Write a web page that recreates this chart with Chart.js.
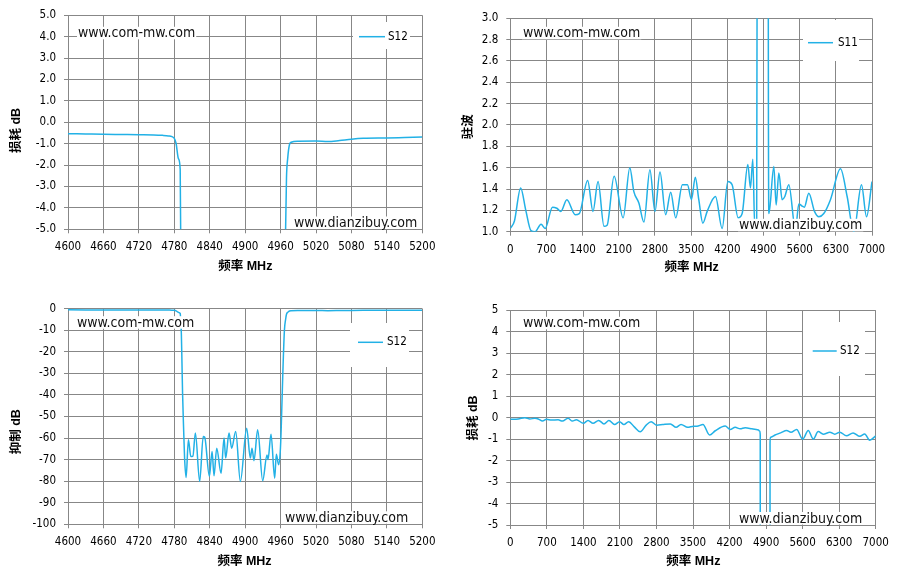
<!DOCTYPE html>
<html>
<head>
<meta charset="utf-8">
<script src="https://cdn.jsdelivr.net/npm/chart.js@4.4.1/dist/chart.umd.min.js"></script>
<style>
  html, body { margin: 0; padding: 0; background: #fff; }
  #grid { display: grid; grid-template-columns: 449px 449px; grid-template-rows: 289px 289px; width: 898px; height: 578px; }
  .cell { position: relative; width: 449px; height: 289px; }
</style>
</head>
<body>
<div id="grid">
  <div class="cell"><canvas id="lossNarrow"></canvas></div>
  <div class="cell"><canvas id="vswrWide"></canvas></div>
  <div class="cell"><canvas id="rejectNarrow"></canvas></div>
  <div class="cell"><canvas id="lossWide"></canvas></div>
</div>
<script>
// 4600-5200 MHz sweep, S12 (dB) - used by the loss and rejection panels
const narrowFreq = [
  4600, 4630, 4660, 4690, 4720, 4745, 4760, 4770, 4776, 4780, 4783, 4787, 4790, 4791,
  4792, 4793, 4794, 4795.7, 4797.4, 4800, 4803.9, 4808, 4811.5, 4815.7, 4823, 4829,
  4831.5, 4839.4, 4844, 4847.3, 4851.8, 4859.2, 4864.3, 4867, 4872.7, 4877.2, 4884,
  4891.9, 4902.6, 4908.8, 4911.6, 4915, 4921.2, 4929.7, 4937, 4938.7, 4943.8, 4950,
  4952.8, 4956.7, 4959.5, 4961, 4963.8, 4966.5, 4968.5, 4970, 4972, 4975, 4978, 4990,
  5020, 5040, 5060, 5080, 5100, 5140, 5170, 5200,
];
const narrowS12 = [
  -0.53, -0.545, -0.56, -0.57, -0.58, -0.59, -0.61, -0.635, -0.67, -0.75, -0.98, -1.7, -2.2, -6,
  -12, -25, -39, -55, -69, -78.3, -60.8, -68.6, -68.4, -57.7, -80.1, -59.3,
  -59.6, -77.8, -66.2, -77.5, -64.7, -76.3, -60, -69.3, -57.7, -64.7, -57,
  -80.1, -55.4, -69.3, -64.7, -70.5, -56.2, -79.8, -67.8, -70, -58.2, -78.6,
  -67.5, -72.4, -66, -56, -30, -10, -5, -2.6, -1.7, -1.05, -0.93, -0.88,
  -0.87, -0.9, -0.85, -0.79, -0.75, -0.73, -0.71, -0.69,
];

// 0-7000 MHz sweep, S11 (VSWR)
const wideFreqS11 = [
  0, 80, 200, 300, 400, 480, 596, 674, 816, 900, 978, 1095, 1257, 1335, 1497, 1600,
  1698, 1814, 1873, 2009, 2184, 2313, 2391, 2488, 2586, 2702, 2800, 2897, 3007, 3104,
  3201, 3331, 3428, 3506, 3580, 3648, 3726, 3810, 3971, 4100, 4210, 4293, 4410, 4487,
  4597, 4648, 4693, 4732, 4750, 4768, 4776, 4780, 4990, 4993, 5005, 5100, 5145, 5197,
  5261, 5313, 5390, 5519, 5584, 5648, 5690, 5777, 5887, 5970, 6067, 6196, 6390, 6519,
  6648, 6796, 6894, 7000,
];
const wideS11 = [
  1.03, 1.10, 1.41, 1.2, 1.01, 1.0, 1.07, 1.03, 1.23, 1.22, 1.19, 1.30, 1.16, 1.17, 1.48, 1.19,
  1.47, 1.05, 1.06, 1.52, 1.13, 1.60, 1.375, 1.27, 1.09, 1.58, 1.19, 1.56, 1.16, 1.37,
  1.13, 1.44, 1.44, 1.30, 1.51, 1.30, 1.08, 1.19, 1.33, 1.03, 1.47, 1.44, 1.13, 1.17,
  1.63, 1.41, 1.68, 1.03, 1.05, 1.1, 3.2, 20, 20, 3.2, 1.17, 1.61, 1.25, 1.55,
  1.30, 1.33, 1.44, 1.02, 1.26, 1.24, 1.23, 1.36, 1.19, 1.14, 1.17, 1.30, 1.59, 1.33,
  1.0, 1.44, 1.14, 1.47,
];

// 0-7000 MHz sweep, S12 (dB)
const wideFreqS12 = [
  0, 153, 280, 375, 471, 535, 617, 694, 789, 916, 999, 1107, 1190, 1266, 1400, 1489,
  1585, 1693, 1795, 1890, 1998, 2094, 2176, 2266, 2380, 2488, 2603, 2698, 2807, 2921,
  3067, 3176, 3271, 3398, 3513, 3576, 3691, 3818, 3926, 4117, 4213, 4308, 4404, 4499,
  4626, 4754, 4780, 4788, 4791, 4890, 4972, 4976, 4982, 5072, 5180, 5295, 5377, 5486,
  5600, 5708, 5804, 5899, 5995, 6122, 6217, 6313, 6440, 6567, 6695, 6790, 6886, 7000,
];
const wideS12 = [
  -0.08, -0.06, 0.0, -0.06, -0.03, -0.06, -0.16, -0.08, -0.11, -0.10, -0.16, -0.03, -0.16, -0.10, -0.26, -0.13,
  -0.26, -0.13, -0.29, -0.13, -0.32, -0.19, -0.32, -0.19, -0.44, -0.66, -0.35, -0.19, -0.35, -0.32,
  -0.29, -0.45, -0.32, -0.45, -0.40, -0.40, -0.32, -0.81, -0.61, -0.39, -0.55, -0.45, -0.52, -0.47,
  -0.52, -0.58, -0.63, -0.8, -40, -60, -40, -1.2, -0.92, -0.81, -0.71, -0.60, -0.68, -0.55,
  -1.0, -0.60, -1.0, -0.65, -0.77, -0.68, -0.77, -0.68, -0.84, -0.71, -0.87, -0.76, -1.05, -0.85,
];

// axis ranges: [min, max, step]
const narrowFreqAxis = [4600, 5200, 60];
const wideFreqAxis = [0, 7000, 700];
const lossNarrowAxis = [-5, 5, 1];
const vswrAxis = [1, 3, 0.2];
const rejectAxis = [-100, 0, 10];
const lossWideAxis = [-5, 5, 1];

const LINE_COLOR = '#22b1e6';
const GRID_COLOR = '#878787';
const SANS_NARROW = "'DejaVu Sans Condensed', 'DejaVu Sans', sans-serif";
const TICK_FONT = { family: SANS_NARROW, size: 11.5 };
const MARK_FONT = `14px ${SANS_NARROW}`;
const LEGEND_FONT = `11.5px ${SANS_NARROW}`;
const TITLE_FONT = "bold 12.5px 'Liberation Sans', 'Noto Sans CJK SC', sans-serif";
const W = 449;
const H = 289;

const toPoints = (xs, ys) => xs.map((x, i) => ({ x, y: ys[i] }));

// legend box, site marks and axis titles, drawn on top like the original
const overlayPlugin = {
  id: 'overlay',
  afterDraw(chart, args, opts) {
    const { ctx } = chart;
    ctx.save();

    const lg = opts.legend;
    ctx.fillStyle = '#fff';
    ctx.fillRect(lg.box[0], lg.box[1], lg.box[2] - lg.box[0], lg.box[3] - lg.box[1]);
    ctx.strokeStyle = LINE_COLOR;
    ctx.lineWidth = 1.5;
    ctx.beginPath();
    ctx.moveTo(lg.line[0], lg.y);
    ctx.lineTo(lg.line[1], lg.y);
    ctx.stroke();
    ctx.fillStyle = '#000';
    ctx.font = LEGEND_FONT;
    ctx.textAlign = 'left';
    ctx.textBaseline = 'middle';
    ctx.fillText(lg.text, lg.textX, lg.y);

    ctx.font = MARK_FONT;
    ctx.textBaseline = 'alphabetic';
    opts.marks.forEach(([text, x, y]) => {
      const w = ctx.measureText(text).width;
      ctx.fillStyle = '#fff';
      ctx.fillRect(x - 1, y - 10.5, w + 2, 12.5);
      ctx.fillStyle = '#111';
      ctx.fillText(text, x, y);
    });

    ctx.font = TITLE_FONT;
    ctx.fillStyle = '#000';
    ctx.textAlign = 'center';
    ctx.textBaseline = 'middle';
    const [xt, xx, xy] = opts.xTitle;
    ctx.fillText(xt, xx, xy);
    const [yt, yx, yy] = opts.yTitle;
    ctx.translate(yx, yy);
    ctx.rotate(-Math.PI / 2);
    ctx.fillText(yt, 0, 0);

    ctx.restore();
  },
};

const makePanel = (elementId, { points, area, xAxis, yAxis, yFormat, overlay }) => {
  const [L, T, R, B] = area;

  const SCALES = {
    x: {
      type: 'linear',
      min: xAxis[0],
      max: xAxis[1],
      grid: { color: GRID_COLOR, tickLength: 4 },
      border: { color: GRID_COLOR },
      ticks: {
        stepSize: xAxis[2],
        autoSkip: false,
        maxRotation: 0,
        padding: 7,
        color: '#000',
        font: TICK_FONT,
        callback: (v) => String(v),
      },
      afterFit: (scale) => { scale.height = H - B; },
    },
    y: {
      min: yAxis[0],
      max: yAxis[1],
      grid: { color: GRID_COLOR, tickLength: 4 },
      border: { color: GRID_COLOR },
      ticks: {
        stepSize: yAxis[2],
        padding: 8,
        color: '#000',
        font: TICK_FONT,
        callback: yFormat,
      },
      afterFit: (scale) => { scale.width = L; },
    },
  };

  return new Chart(document.getElementById(elementId), {
    type: 'line',
    data: {
      datasets: [{
        data: points,
        borderColor: LINE_COLOR,
        borderWidth: 1.5,
        pointRadius: 0,
        cubicInterpolationMode: 'monotone',
        fill: false,
      }],
    },
    options: {
      responsive: true,
      maintainAspectRatio: false,
      animation: false,
      layout: { padding: { left: 0, top: T, right: W - R, bottom: 0 } },
      plugins: {
        legend: { display: false },
        tooltip: { enabled: false },
        overlay,
      },
      scales: SCALES,
    },
    plugins: [overlayPlugin],
  });
};

const oneDecimal = (v) => v.toFixed(1);
const whole = (v) => String(Math.round(v));

makePanel('lossNarrow', {
  points: toPoints(narrowFreq, narrowS12),
  area: [68, 15.3, 422.3, 229.3],
  xAxis: narrowFreqAxis,
  yAxis: lossNarrowAxis,
  yFormat: oneDecimal,
  overlay: {
    legend: { box: [353, 22, 410, 49], line: [359, 385], y: 36.7, text: 'S12', textX: 388 },
    marks: [['www.com-mw.com', 78, 37.3], ['www.dianzibuy.com', 294, 227]],
    xTitle: ['频率 MHz', 245.3, 266.7],
    yTitle: ['损耗 dB', 16.3, 130.5],
  },
});

makePanel('vswrWide', {
  points: toPoints(wideFreqS11, wideS11),
  area: [61.3, 18.3, 423, 231.7],
  xAxis: wideFreqAxis,
  yAxis: vswrAxis,
  yFormat: oneDecimal,
  overlay: {
    legend: { box: [354, 20, 410, 61], line: [359, 384], y: 42.7, text: 'S11', textX: 389 },
    marks: [['www.com-mw.com', 74, 37.3], ['www.dianzibuy.com', 290, 229.3]],
    xTitle: ['频率 MHz', 242.7, 267.7],
    yTitle: ['驻波', 20, 126.7],
  },
});

makePanel('rejectNarrow', {
  points: toPoints(narrowFreq, narrowS12),
  area: [68, 19.7, 422.3, 235.3],
  xAxis: narrowFreqAxis,
  yAxis: rejectAxis,
  yFormat: whole,
  overlay: {
    legend: { box: [350, 34, 409, 78], line: [358, 383], y: 53.3, text: 'S12', textX: 387 },
    marks: [['www.com-mw.com', 77, 37.7], ['www.dianzibuy.com', 285, 232.8]],
    xTitle: ['频率 MHz', 244.5, 272.7],
    yTitle: ['抑制 dB', 16.3, 142.7],
  },
});

makePanel('lossWide', {
  points: toPoints(wideFreqS12, wideS12),
  area: [61.3, 21.3, 426.7, 236],
  xAxis: wideFreqAxis,
  yAxis: lossWideAxis,
  yFormat: whole,
  overlay: {
    legend: { box: [354, 33, 416, 87], line: [363.7, 387.7], y: 62, text: 'S12', textX: 391 },
    marks: [['www.com-mw.com', 74, 38.3], ['www.dianzibuy.com', 290, 233.5]],
    xTitle: ['频率 MHz', 244.3, 272.7],
    yTitle: ['损耗 dB', 25, 129],
  },
});
</script>
</body>
</html>
